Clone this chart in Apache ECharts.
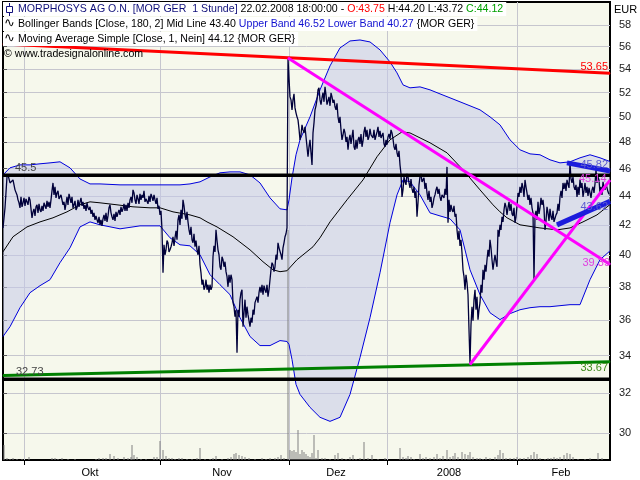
<!DOCTYPE html>
<html><head><meta charset="utf-8">
<script src="https://cdn.jsdelivr.net/npm/echarts@6/dist/echarts.min.js"></script>
<style>html,body{margin:0;padding:0;background:#fff}#c{width:640px;height:480px}</style>
</head><body><div id="c"></div>
<script>
// ---- data (x = bar position, y = price in EUR) ----
const price = [[0,41.79],[2,43.17],[4,45.38],[5,45.53],[7,44.94],[10,45.16],[12,44.44],[15,43.73],[17,43.17],[20,43.52],[24,43.87],[27,43.73],[29,42.48],[30,42.89],[34,43.38],[37,43.03],[42,43.59],[47,43.17],[50,44.94],[54,44.22],[57,43.94],[59,43.73],[62,43.03],[67,43.87],[71,43.38],[74,43.17],[77,43.59],[81,43.10],[85,43.17],[90,42.55],[94,42.34],[97,42.00],[101,42.68],[104,42.20],[107,43.38],[110,42.34],[115,42.82],[120,43.10],[124,42.96],[127,43.73],[130,44.44],[132,43.73],[134,44.08],[139,44.08],[142,43.59],[144,43.87],[149,43.94],[152,43.73],[155,43.10],[157,42.68],[159,41.66],[160,38.87],[161,40.67],[163,40.34],[165,40.80],[167,40.34],[169,40.80],[172,41.13],[175,42.34],[178,43.03],[180,43.73],[182,42.68],[185,42.20],[187,41.33],[189,41.00],[192,40.54],[194,40.34],[197,39.38],[199,38.13],[202,38.00],[204,37.82],[207,38.13],[209,38.00],[210,39.89],[213,41.66],[215,40.34],[217,39.25],[220,39.70],[224,38.63],[225,38.00],[229,38.44],[230,37.04],[232,36.21],[234,34.17],[235,36.62],[237,37.22],[239,37.82],[240,35.63],[242,37.22],[244,36.80],[247,35.63],[250,36.62],[252,37.04],[254,37.40],[257,38.00],[262,37.82],[265,37.40],[267,38.44],[269,39.51],[272,39.25],[275,40.80],[277,40.34],[279,39.70],[282,41.20],[284,41.79],[285,54.99],[287,51.64],[288,51.39],[289,50.57],[290,51.39],[292,50.73],[294,50.00],[297,48.18],[300,48.96],[304,48.41],[305,46.88],[307,48.18],[309,46.27],[310,48.72],[312,50.57],[315,52.23],[317,51.39],[319,51.56],[322,52.48],[325,51.15],[329,51.64],[332,50.82],[335,50.00],[339,48.18],[342,48.72],[345,47.41],[347,48.57],[349,47.95],[352,47.41],[355,48.18],[359,47.64],[362,49.20],[365,48.18],[369,48.72],[372,48.18],[375,49.20],[379,48.18],[382,47.64],[385,48.41],[389,48.72],[392,47.41],[395,46.88],[397,46.27],[399,43.94],[402,45.02],[405,45.38],[407,44.58],[410,44.22],[414,42.55],[417,45.38],[420,44.94],[425,43.73],[429,43.17],[432,44.08],[434,44.66],[437,43.94],[440,44.22],[444,46.12],[445,42.14],[449,43.03],[452,42.55],[455,41.00],[459,40.15],[460,39.06],[462,37.82],[464,38.25],[466,35.46],[467,33.57],[469,36.80],[472,37.82],[475,36.04],[477,37.04],[480,39.06],[484,39.70],[487,41.00],[490,39.06],[492,40.02],[494,39.25],[495,41.66],[499,42.55],[502,43.52],[505,43.17],[509,42.75],[512,42.14],[515,44.22],[519,44.94],[522,45.16],[525,43.73],[529,43.17],[531,38.44],[532,42.68],[534,42.34],[537,43.17],[540,43.73],[542,41.66],[545,42.82],[549,42.34],[552,42.14],[554,42.82],[557,43.94],[560,44.94],[564,45.16],[567,46.42],[569,44.94],[572,44.44],[574,43.94],[577,45.16],[580,43.94],[584,44.66],[587,44.22],[590,44.66],[593,45.90],[595,45.38],[597,44.22],[600,45.02],[602,44.44],[604,44.58],[606,44.12]];

// intrabar swings read between the main turning points
const priceSwings = [[14,44.08],[16,43.52],[18,43.94],[19,43.24],[21,43.87],[22,43.31],[23,43.80],[25,43.38],[26,43.94],[31,43.10],[32,42.61],[33,43.24],[35,42.82],[36,43.45],[38,42.89],[39,43.31],[40,42.96],[41,43.52],[43,43.10],[44,43.66],[45,43.24],[46,43.59],[48,43.73],[49,44.37],[51,44.08],[52,44.66],[53,43.87],[55,44.37],[56,43.80],[58,44.08],[60,43.38],[61,43.59],[63,43.45],[64,43.94],[65,43.38],[66,44.15],[68,43.52],[69,43.94],[70,43.17],[72,43.66],[73,43.03],[75,43.73],[76,43.24],[78,43.87],[79,43.31],[80,43.59],[82,43.38],[83,42.96],[84,43.52],[86,43.03],[87,43.24],[88,42.75],[89,43.03],[91,42.82],[92,42.34],[93,42.61],[95,42.14],[96,42.55],[98,42.34],[99,41.93],[100,42.41],[102,42.27],[103,42.82],[105,42.61],[106,43.17],[108,42.82],[109,42.55],[111,42.75],[112,42.27],[113,42.89],[114,42.55],[116,43.03],[117,42.68],[118,43.24],[119,42.89],[121,43.45],[122,42.96],[123,43.38],[125,43.52],[126,43.17],[128,43.94],[129,43.52],[131,44.22],[133,43.45],[135,43.80],[136,43.45],[137,44.15],[138,43.73],[140,43.87],[141,44.37],[143,43.80],[145,43.45],[146,44.01],[147,43.59],[148,44.15],[150,43.66],[151,44.08],[153,43.45],[154,43.87],[156,43.31],[158,42.96],[162,40.02],[164,40.95],[166,40.20],[168,40.54],[170,41.20],[171,40.60],[173,41.60],[174,41.00],[176,42.68],[177,42.00],[179,42.41],[181,43.31],[183,42.34],[184,42.89],[186,41.66],[188,41.86],[190,40.80],[191,41.40],[193,40.95],[195,40.02],[196,40.60],[198,38.87],[200,38.44],[201,37.82],[203,38.44],[205,38.13],[206,37.64],[208,37.82],[211,40.60],[212,40.20],[214,40.95],[216,40.02],[218,39.06],[219,39.89],[221,39.25],[222,39.57],[223,38.94],[226,38.75],[227,38.25],[228,38.75],[231,36.80],[233,36.62],[236,36.21],[238,37.64],[241,36.45],[243,36.15],[245,36.33],[246,35.98],[248,36.15],[249,35.86],[251,36.33],[253,37.22],[255,37.04],[256,37.64],[258,37.64],[259,38.13],[260,37.52],[261,38.07],[263,37.64],[264,38.13],[266,37.82],[268,39.06],[270,39.38],[271,38.94],[273,40.02],[274,39.70],[276,40.47],[278,40.02],[280,40.47],[281,40.80],[283,41.40],[286,53.20],[291,51.89],[293,50.33],[295,49.76],[296,49.04],[298,48.57],[299,49.36],[301,48.72],[302,49.20],[303,48.41],[306,47.64],[308,47.18],[311,49.52],[313,50.90],[314,51.40],[316,52.40],[318,51.00],[320,52.00],[321,51.23],[323,51.81],[324,51.00],[326,51.64],[327,50.90],[328,51.98],[330,51.15],[331,51.40],[333,50.57],[334,51.10],[336,49.52],[337,50.00],[338,48.96],[340,48.57],[341,49.04],[343,48.02],[344,48.41],[346,48.18],[348,47.87],[350,48.96],[351,47.64],[353,48.18],[354,47.49],[356,48.41],[357,47.87],[358,48.64],[360,48.10],[361,48.80],[363,48.41],[364,48.96],[366,48.41],[367,49.04],[368,48.57],[370,48.33],[371,48.96],[373,48.49],[374,48.80],[376,48.41],[377,48.88],[378,48.33],[380,48.72],[381,47.87],[383,48.18],[384,47.80],[386,48.64],[387,48.25],[388,48.96],[390,48.25],[391,47.64],[393,47.87],[394,47.18],[396,47.33],[398,45.60],[400,44.44],[401,45.38],[403,44.80],[404,45.60],[406,44.94],[408,45.23],[409,44.51],[411,44.66],[412,43.87],[413,44.37],[415,43.52],[416,44.80],[418,45.60],[419,45.02],[421,45.31],[422,44.51],[423,44.94],[424,44.22],[426,44.37],[427,43.59],[428,43.94],[430,43.45],[431,43.87],[433,44.44],[435,44.15],[436,44.51],[438,43.66],[439,44.08],[441,43.87],[442,44.51],[443,44.08],[446,43.73],[447,42.89],[448,43.38],[450,42.89],[451,43.31],[453,42.75],[454,41.66],[456,41.60],[457,40.60],[458,41.00],[461,38.63],[463,38.75],[465,37.52],[468,35.75],[470,35.98],[471,37.22],[473,36.62],[474,37.40],[476,36.62],[478,38.13],[479,37.64],[481,38.44],[482,39.38],[483,38.94],[485,40.34],[486,39.89],[488,40.47],[489,39.70],[491,39.57],[493,39.57],[496,41.20],[497,42.00],[498,41.66],[500,42.20],[501,43.03],[503,43.24],[504,42.68],[506,43.59],[507,42.96],[508,43.45],[510,42.61],[511,43.17],[513,42.55],[514,43.31],[516,43.94],[517,44.66],[518,44.22],[520,44.58],[521,43.94],[523,44.66],[524,44.22],[526,44.08],[527,43.38],[528,43.87],[530,42.82],[533,42.96],[535,43.59],[536,42.75],[538,43.87],[539,43.38],[541,43.10],[543,42.27],[544,43.24],[546,42.27],[547,43.10],[548,42.55],[550,42.96],[551,42.20],[553,42.68],[555,43.45],[556,42.96],[558,44.37],[559,43.87],[561,44.51],[562,44.94],[563,44.37],[565,45.02],[566,44.58],[568,45.23],[570,45.38],[571,44.66],[573,44.80],[575,44.66],[576,44.08],[578,44.58],[579,44.94],[581,44.37],[582,44.94],[583,44.22],[585,44.01],[586,44.58],[588,43.87],[589,44.44],[591,44.22],[592,44.87],[594,44.94],[596,45.16],[598,44.66],[599,44.08],[601,44.66],[603,44.87],[605,44.30]];

const upperBand = [[0,45.53],[7,46.05],[17,46.27],[27,46.27],[37,46.35],[47,46.42],[57,46.50],[67,46.05],[77,45.23],[87,44.87],[97,44.87],[117,44.80],[137,44.80],[157,44.80],[167,44.80],[177,44.80],[187,44.87],[197,45.02],[207,45.38],[217,45.68],[227,45.75],[237,45.75],[247,45.53],[257,44.94],[267,43.87],[277,43.10],[284,43.03],[286,43.73],[289,45.31],[293,47.03],[297,48.18],[307,50.00],[317,52.23],[327,54.29],[337,55.89],[347,56.52],[357,56.61],[367,56.43],[377,55.71],[387,54.64],[394,53.68],[400,52.65],[407,52.40],[417,52.48],[427,52.23],[437,51.89],[447,51.56],[457,51.23],[467,50.90],[477,50.57],[487,50.00],[497,49.36],[507,48.18],[517,47.41],[527,47.10],[537,47.03],[547,46.65],[557,46.42],[567,46.50],[577,46.80],[587,47.03],[597,46.80],[607,46.52]];

const lowerBand = [[0,35.07],[7,35.63],[17,36.74],[27,37.64],[37,38.07],[47,38.44],[57,39.51],[67,40.47],[77,41.86],[87,42.20],[97,42.00],[117,41.73],[137,41.93],[157,41.93],[167,41.13],[177,40.67],[187,40.60],[197,40.02],[207,38.75],[217,38.13],[227,37.52],[237,36.15],[247,35.07],[257,34.56],[267,34.56],[277,34.84],[284,34.79],[286,34.62],[289,33.79],[293,32.46],[297,31.94],[307,31.28],[317,30.78],[327,30.58],[337,30.78],[347,31.94],[357,33.90],[367,36.15],[377,38.87],[387,42.14],[394,44.08],[400,45.16],[407,45.02],[417,44.08],[427,42.82],[437,42.61],[447,42.41],[457,41.66],[467,39.06],[477,37.52],[487,36.44],[497,36.04],[507,36.39],[517,36.62],[527,36.74],[537,36.80],[547,36.80],[557,36.86],[567,36.92],[577,36.92],[587,38.44],[597,39.70],[607,40.27]];

const midLine = [[0,40.21],[10,41.20],[24,41.86],[37,42.20],[50,42.48],[64,42.89],[77,43.38],[87,43.59],[97,43.52],[114,43.38],[130,43.24],[147,43.17],[157,43.17],[170,42.89],[187,42.68],[197,42.48],[204,42.20],[214,41.86],[230,41.20],[247,40.34],[260,39.57],[270,39.06],[277,38.94],[284,39.00],[294,39.70],[310,40.54],[317,41.13],[327,42.20],[344,43.73],[360,45.16],[374,46.88],[387,48.18],[399,48.80],[407,48.72],[415,48.41],[427,47.95],[444,47.18],[460,45.90],[477,44.44],[490,43.38],[497,42.89],[504,42.48],[517,42.00],[537,41.79],[554,41.66],[567,41.79],[580,42.20],[594,42.68],[607,43.40]];

const volume = [[1,15],[4,2],[7,1],[10,2],[14,1],[19,1],[26,3],[49,2],[52,2],[55,1],[59,2],[65,1],[72,1],[93,1],[96,2],[100,2],[103,2],[107,6],[111,4],[115,2],[121,3],[125,2],[128,3],[129,15],[131,5],[134,3],[138,1],[143,1],[151,3],[154,3],[157,19],[160,10],[163,4],[166,2],[169,2],[172,1],[176,2],[179,2],[184,1],[189,1],[194,2],[197,12],[202,1],[207,1],[210,2],[213,4],[219,1],[225,2],[228,3],[231,6],[233,7],[236,5],[239,4],[242,3],[246,2],[252,1],[259,2],[263,1],[267,2],[272,2],[275,3],[278,5],[281,2],[285,230],[287,10],[289,9],[291,10],[293,8],[295,30],[297,6],[299,10],[301,8],[303,6],[305,4],[307,3],[309,7],[311,25],[313,2],[315,10],[319,2],[322,2],[327,1],[332,5],[335,7],[339,2],[343,1],[347,3],[350,5],[353,1],[357,2],[361,18],[365,2],[369,5],[375,1],[382,2],[397,12],[400,3],[403,2],[405,4],[408,3],[411,1],[417,6],[420,2],[423,3],[427,2],[431,3],[434,6],[437,2],[440,4],[444,10],[447,3],[450,4],[452,7],[455,3],[459,8],[462,6],[465,5],[467,8],[470,3],[474,2],[477,2],[480,1],[483,3],[487,2],[492,3],[495,5],[497,10],[500,7],[503,2],[507,2],[511,2],[514,3],[517,2],[521,2],[525,3],[528,5],[531,8],[534,6],[537,2],[542,1],[545,2],[548,2],[551,3],[554,2],[557,3],[561,5],[564,7],[567,6],[570,3],[575,1],[582,1],[587,2],[595,7],[599,2]];

// trend / level lines (start and end points)
const levelT = [0, 607];
const level455 = [45.5, 45.5];
const level3273 = [32.73, 32.73];
const redT = [0, 607];       const redV = [56.25, 53.65];
const greenT = [0, 607];     const greenV = [32.93, 33.67];
const magDownT = [285, 607]; const magDownV = [54.99, 39.39];
const magUpT = [467, 607];   const magUpV = [33.52, 45.14];
const blueHiT = [564, 607];  const blueHiV = [46.42, 45.82];
const blueLoT = [554, 607];  const blueLoV = [42.00, 43.62];

// axes
const yTicks = [30,32,34,36,38,40,42,44,46,48,50,52,54,56,58];
const monthStarts = [21,157,286,384,514];
const monthLabelAt = [87,219,333,446,558];
const monthNames = ['Okt','Nov','Dez','2008','Feb'];

const FF = '"Liberation Sans", Arial, sans-serif';
const HF = 10.6;
const chart = echarts.init(document.getElementById('c'), null, {renderer:'canvas'});

const priceAll = price.concat(priceSwings).sort((a, b) => a[0] - b[0]);

function trend(name, tArr, vArr, color, width, lbl) {
  const data = tArr.map((t, i) => [t, vArr[i]]);
  const items = data.map((p, i) => {
    const it = {value: p};
    if (lbl && i === lbl.idx) {
      it.label = Object.assign({show: true, formatter: lbl.text, color: lbl.color || color,
        fontSize: 11, fontFamily: FF}, lbl.opt);
    }
    return it;
  });
  return {name, type:'line', data: items, symbol:'circle', symbolSize: 1, showSymbol: true,
    itemStyle:{color}, lineStyle:{color, width}, z: 5, silent: true};
}

const bandRows = upperBand.map((p, i) => [p[0], p[1], lowerBand[i][1]]);

const option = {
  animation: false,
  grid: {left: 3, right: 30, top: 2, bottom: 20, show: true, borderColor: '#000', borderWidth: 2, backgroundColor: '#f6f8ec'},
  xAxis: {type:'value', min: 0, max: 607,
    axisLine:{show:false},
    axisTick:{show:true, customValues: monthStarts, length:5, lineStyle:{color:'#000'}},
    axisLabel:{customValues: monthLabelAt, formatter: v => monthNames[monthLabelAt.indexOf(v)] || '', margin: 7, color:'#000', fontSize: 11, fontFamily: FF},
    splitLine:{show:true, lineStyle:{color:'#c6c6ce', width:1}}},
  yAxis: [
    {type:'log', position:'right', min: 28.73, max: 60.19,
      axisLine:{show:false},
      axisTick:{show:true, customValues: yTicks, length:4, lineStyle:{color:'#555'}},
      axisLabel:{customValues: yTicks, margin: 9, color:'#222', fontSize: 11, fontFamily: FF},
      splitLine:{show:true, lineStyle:{color:'#c6c6ce', width:1}}},
    {type:'value', min: 0, max: 458, show: false}
  ],
  series: [
    {name:'bandFill', type:'custom', data: bandRows, encode:{x:0, y:[1,2]}, silent:true, z:1, clip:true,
      renderItem: function (params, api) {
        if (params.dataIndex !== 0) return null;
        const up = bandRows.map(r => api.coord([r[0], r[1]]));
        const lo = bandRows.map(r => api.coord([r[0], r[2]])).reverse();
        return {type:'polygon', shape:{points: up.concat(lo)}, style:{fill:'rgba(196,200,234,0.55)', stroke:null}};
      }},
    {name:'lower', type:'line', data: lowerBand, showSymbol:false, lineStyle:{color:'#0000dd', width:1}, z:2, silent:true},
    {name:'upper', type:'line', data: upperBand, showSymbol:false, lineStyle:{color:'#0000dd', width:1}, z:2, silent:true},
    {name:'volume', type:'bar', yAxisIndex:1, data: volume, barWidth:1, itemStyle:{color:'#808080'}, z:2, silent:true},
    {name:'mid', type:'line', data: midLine, showSymbol:false, lineStyle:{color:'#000', width:1}, z:3, silent:true},
    {name:'price', type:'line', data: priceAll, showSymbol:false, lineStyle:{color:'#00003a', width:1.3}, z:4, silent:true},
    trend('l455', levelT, level455, '#000', 3.5, {idx:0, text:'45.5', color:'#444', opt:{position:'top', distance:1, align:'left', offset:[12,0]}}),
    trend('l3273', levelT, level3273, '#000', 3.5, {idx:0, text:'32.73', color:'#444', opt:{position:'top', distance:1, align:'left', offset:[13,0]}}),
    trend('red', redT, redV, '#ff0000', 3, {idx:1, text:'53.65', opt:{position:'top', distance:0, align:'right', offset:[-2,0]}}),
    trend('green', greenT, greenV, '#008000', 3, {idx:1, text:'33.67', color:'#3d8a1a', opt:{position:'bottom', distance:0, align:'right', offset:[-2,0]}}),
    trend('magDown', magDownT, magDownV, '#ff00ff', 3, {idx:1, text:'39.39', color:'#e040e0', opt:{position:'top', distance:-4, align:'right', offset:[0,0]}}),
    trend('magUp', magUpT, magUpV, '#ff00ff', 3, {idx:1, text:'45.14', color:'#e040e0', opt:{position:'left', distance:3, offset:[0,-1]}}),
    trend('blueHi', blueHiT, blueHiV, '#1c1cdc', 5, {idx:1, text:'45.82', color:'#5a5ad0', opt:{position:'top', distance:0, align:'right', offset:[-2,0]}}),
    trend('blueLo', blueLoT, blueLoV, '#1c1cdc', 5, {idx:1, text:'43.62', color:'#5a5ad0', opt:{position:'bottom', distance:0, align:'right', offset:[-2,0]}})
  ],
  graphic: [
    {type:'text', x:3, y:2, z:100, style:{
      text:'{n|MORPHOSYS AG O.N. [MOR GER  1 Stunde] }{k|22.02.2008 18:00:00 - }{r|O:43.75 }{k|H:44.20 L:43.72 }{g|C:44.12}',
      fontSize:HF, fontFamily:FF, fill:'#000', backgroundColor:'#fff', padding:[2,3,1,15],
      rich:{n:{fill:'#10107a', fontSize:HF, fontFamily:FF}, k:{fill:'#000', fontSize:HF, fontFamily:FF},
            r:{fill:'#ff0000', fontSize:HF, fontFamily:FF}, g:{fill:'#00a000', fontSize:HF, fontFamily:FF}}}},
    {type:'text', x:3, y:17, z:100, style:{
      text:'{k|Bollinger Bands [Close, 180, 2] Mid Line 43.40 }{b|Upper Band 46.52 Lower Band 40.27 }{MOR GER}',
      fontSize:HF, fontFamily:FF, fill:'#000', backgroundColor:'#fff', padding:[2,3,1,15],
      rich:{k:{fill:'#000', fontSize:HF, fontFamily:FF}, b:{fill:'#1010d0', fontSize:HF, fontFamily:FF}}}},
    {type:'text', x:3, y:32, z:100, style:{
      text:'Moving Average Simple [Close, 1, Nein] 44.12 {MOR GER}',
      fontSize:HF, fontFamily:FF, fill:'#000', backgroundColor:'#fff', padding:[2,3,1,15]}},
    {type:'text', x:4, y:49, z:100, style:{text:'© www.tradesignalonline.com', fontSize:HF, fontFamily:FF, fill:'#000'}},
    {type:'line', z:101, shape:{x1:9.5, y1:3, x2:9.5, y2:16}, style:{stroke:'#10107a', lineWidth:1}},
    {type:'rect', z:102, shape:{x:6.5, y:6.5, width:6, height:6}, style:{fill:'#fff', stroke:'#10107a', lineWidth:1}},
    {type:'text', x:4, y:17, z:101, style:{text:'∿', fontSize:13, fontFamily:'"DejaVu Sans"', fill:'#000'}},
    {type:'text', x:4, y:32, z:101, style:{text:'∿', fontSize:13, fontFamily:'"DejaVu Sans"', fill:'#000'}},
    {type:'text', x:614, y:4, z:100, style:{text:'EUR', fontSize:11, fontFamily:FF, fill:'#000'}}
  ]
};
chart.setOption(option);
</script></body></html>
